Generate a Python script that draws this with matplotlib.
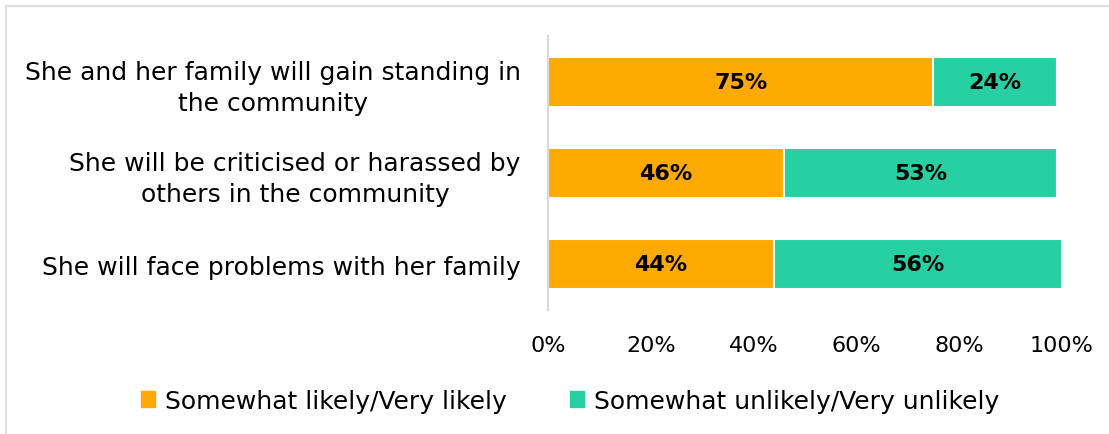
import matplotlib.pyplot as plt
from matplotlib.lines import Line2D
from matplotlib.patches import Patch

plt.rcParams["font.family"] = "DejaVu Sans"

statements = [
    "She and her family will gain standing in\nthe community",
    "She will be criticised or harassed by\nothers in the community",
    "She will face problems with her family",
]
likely = [75, 46, 44]
unlikely = [24, 53, 56]
series_names = ["Somewhat likely/Very likely", "Somewhat unlikely/Very unlikely"]
xticks = [0, 20, 40, 60, 80, 100]

orange = "#FFAA00"
teal = "#26D0A2"

fig = plt.figure(figsize=(11.09, 4.35), dpi=100)
ax = fig.add_axes([0.4941, 0.285, 0.4635, 0.63])

ypos = list(range(len(statements)))
ax.barh(ypos, likely, height=0.55, color=orange, edgecolor="white", linewidth=1.5)
ax.barh(ypos, unlikely, left=likely, height=0.55, color=teal, edgecolor="white", linewidth=1.5)

for y, a, b in zip(ypos, likely, unlikely):
    ax.text(a / 2, y, f"{a}%", ha="center", va="center", fontsize=16, fontweight="bold")
    ax.text(a + b / 2, y, f"{b}%", ha="center", va="center", fontsize=16, fontweight="bold")

ax.set_xlim(0, 100)
ax.set_ylim(2.5, -0.5)
ax.set_yticks(ypos)
ax.set_yticklabels(statements, fontsize=18, ha="right", multialignment="center",
                   linespacing=1.35)
ax.set_xticks(xticks)
ax.set_xticklabels([f"{t}%" for t in xticks], fontsize=16)
ax.tick_params(axis="x", length=0, pad=18)
ax.tick_params(axis="y", length=0, pad=19.5)

for side in ["top", "right", "bottom"]:
    ax.spines[side].set_visible(False)
ax.spines["left"].set_color("#d9d9d9")
ax.spines["left"].set_linewidth(1.5)

handles = [Patch(color=orange), Patch(color=teal)]
fig.legend(handles, series_names, loc="center", bbox_to_anchor=(0.514, 0.076),
           ncol=2, frameon=False, fontsize=18, handlelength=0.56, handleheight=0.56,
           handletextpad=0.4, columnspacing=2.5)

# thin frame along the top and left edges
fig.add_artist(Line2D([0.0054, 1], [0.984, 0.984], color="#dedede", linewidth=1.5))
fig.add_artist(Line2D([0.0054, 0.0054], [0, 0.984], color="#dedede", linewidth=1.5))

fig.savefig("out.png", dpi=100)
